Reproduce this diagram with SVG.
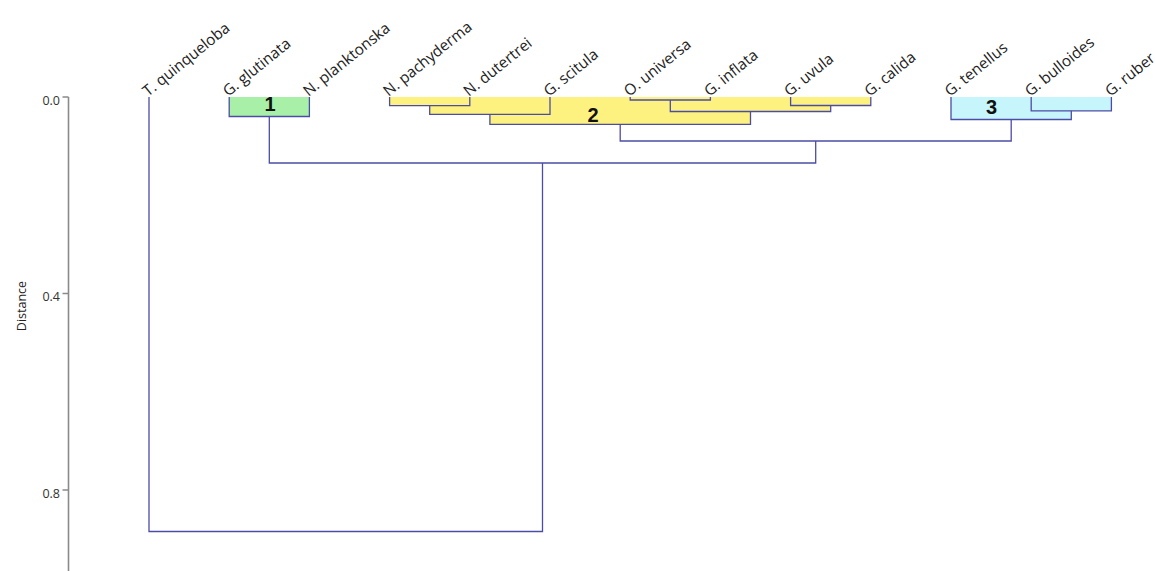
<svg xmlns="http://www.w3.org/2000/svg" width="1155" height="571" viewBox="0 0 1155 571">
<style>
.lbl{font-family:"Open Sans","Liberation Sans",sans-serif;font-size:15.3px;fill:#222}
.tick{font-family:"Open Sans","Liberation Sans",sans-serif;font-size:12.5px;fill:#333;text-anchor:end}
.ttl{font-family:"Open Sans","Liberation Sans",sans-serif;font-size:12.5px;fill:#222;text-anchor:middle}
.num{font-family:"Liberation Sans",Arial,sans-serif;font-size:20px;font-weight:bold;fill:#111;text-anchor:middle}
.link{fill:none;stroke:#4c4ca6;stroke-width:1.3}
.axis{fill:none;stroke:#8a8a8a;stroke-width:1.6}
</style>
<rect width="1155" height="571" fill="#ffffff"/>
<g id="cluster-1-shade" fill="#a8f0a8">
<rect x="229.2" y="97" width="80.2" height="19.5"/>
</g>
<g id="cluster-2-shade" fill="#fdf27f">
<rect x="389.6" y="97" width="80.2" height="8.7"/>
<rect x="429.7" y="97" width="120.3" height="17.3"/>
<rect x="489.9" y="97" width="260.6" height="27.3"/>
<rect x="670.3" y="97" width="160.4" height="14.5"/>
<rect x="790.6" y="97" width="80.2" height="8.5"/>
</g>
<g id="cluster-3-shade" fill="#c6f5fb">
<rect x="1031.2" y="97" width="80.2" height="13.8"/>
<rect x="951" y="97" width="120.3" height="22.5"/>
</g>
<g id="axis">
<path class="axis" d="M68.5,97 V571 M62.5,97 H68.5 M62.5,293.5 H68.5 M62.5,490 H68.5"/>
<text class="tick" x="60" y="105">0.0</text>
<text class="tick" x="60" y="301">0.4</text>
<text class="tick" x="60" y="497.5">0.8</text>
<text class="ttl" transform="translate(26,306) rotate(-90)">Distance</text>
</g>
<g id="connectors">
<path class="link" d="M229.2,97 V116.5 H309.4 V97"/>
<path class="link" d="M389.6,97 V105.7 H469.8 V97"/>
<path class="link" d="M429.7,105.7 V114.3 H550 V97"/>
<path class="link" d="M630.2,97 V100 H710.4 V97"/>
<path class="link" d="M790.6,97 V105.5 H870.8 V97"/>
<path class="link" d="M670.3,100 V111.5 H830.7 V105.5"/>
<path class="link" d="M489.9,114.3 V124.3 H750.5 V111.5"/>
<path class="link" d="M1031.2,97 V110.8 H1111.4 V97"/>
<path class="link" d="M951,97 V119.5 H1071.3 V110.8"/>
<path class="link" d="M620.2,124.3 V141 H1011.2 V119.5"/>
<path class="link" d="M269.3,116.5 V163 H815.7 V141"/>
<path class="link" d="M149,97 V531.5 H542.5 V163"/>
</g>
<g id="leaf-1"><text class="lbl" transform="translate(148,97) rotate(-39)">T. quinqueloba</text></g>
<g id="leaf-2"><text class="lbl" transform="translate(228.2,97) rotate(-39)">G. glutinata</text></g>
<g id="leaf-3"><text class="lbl" transform="translate(308.4,97) rotate(-39)">N. planktonska</text></g>
<g id="leaf-4"><text class="lbl" transform="translate(388.6,97) rotate(-39)">N. pachyderma</text></g>
<g id="leaf-5"><text class="lbl" transform="translate(468.8,97) rotate(-39)">N. dutertrei</text></g>
<g id="leaf-6"><text class="lbl" transform="translate(549,97) rotate(-39)">G. scitula</text></g>
<g id="leaf-7"><text class="lbl" transform="translate(629.2,97) rotate(-39)">O. universa</text></g>
<g id="leaf-8"><text class="lbl" transform="translate(709.4,97) rotate(-39)">G. inflata</text></g>
<g id="leaf-9"><text class="lbl" transform="translate(789.6,97) rotate(-39)">G. uvula</text></g>
<g id="leaf-10"><text class="lbl" transform="translate(869.8,97) rotate(-39)">G. calida</text></g>
<g id="leaf-11"><text class="lbl" transform="translate(950,97) rotate(-39)">G. tenellus</text></g>
<g id="leaf-12"><text class="lbl" transform="translate(1030.2,97) rotate(-39)">G. bulloides</text></g>
<g id="leaf-13"><text class="lbl" transform="translate(1110.4,97) rotate(-39)">G. ruber</text></g>
<g id="cluster-1"><text class="num" x="270" y="110.5">1</text></g>
<g id="cluster-2"><text class="num" x="593" y="121.5">2</text></g>
<g id="cluster-3"><text class="num" x="991.5" y="113.5">3</text></g>
</svg>
